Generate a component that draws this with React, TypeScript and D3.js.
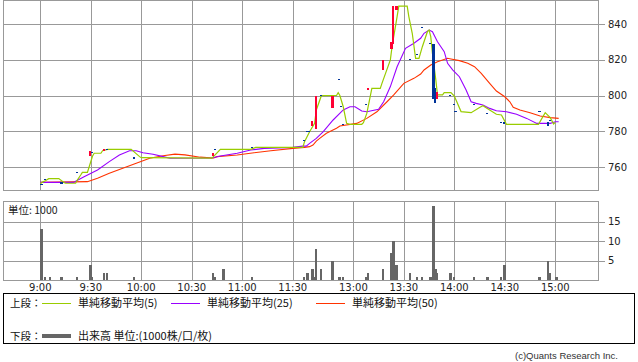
import React from "react";
import * as d3 from "d3";

const W = 638;
const H = 362;

const timeTicks = ["9:00", "9:30", "10:00", "10:30", "11:00", "11:30", "13:00", "13:30", "14:00", "14:30", "15:00"];
const priceTicks = [760, 780, 800, 820, 840];
const volTicks = [5, 10, 15];

// 1-minute candles: time, open, close
const candleTimes = ["9:00", "9:02", "9:12", "9:21", "9:29", "9:30", "9:37", "9:39", "9:55", "10:42", "10:43", "11:05",
  "12:30", "12:32", "12:33", "12:35", "12:37", "12:40", "12:47", "12:51", "12:52", "12:53", "13:07", "13:08", "13:17",
  "13:22", "13:23", "13:25", "13:33", "13:37", "13:40", "13:45", "13:47", "13:48", "13:49", "13:57", "13:59", "14:00",
  "14:11", "14:19", "14:27", "14:29", "14:50", "14:55", "14:56"];
const candleOpen = [750, 753, 751, 757, 766, 768, 769, 770, 765, 766, 770, 771,
  775, 780, 780, 783, 781, 800, 793, 809, 794, 784, 795, 803, 814,
  826, 829, 848, 820, 823, 838, 829, 829, 804, 798, 800, 795, 791,
  795, 790, 785, 785, 791, 785, 786];
const candleClose = [750, 753, 751, 757, 769, 768, 770, 770, 765, 768, 770, 771,
  775, 780, 780, 786, 800, 800, 800, 809, 794, 784, 795, 804, 820,
  830, 850, 850, 820, 823, 838, 829, 798, 796, 802, 800, 795, 791,
  795, 790, 785, 784, 791, 783, 786];

// volume (1000 shares)
const volTimes = ["9:00", "9:02", "9:05", "9:12", "9:21", "9:29", "9:30", "9:37", "9:39", "9:55", "10:42", "10:43", "10:48", "11:05",
  "12:30", "12:32", "12:35", "12:36", "12:37", "12:40", "12:47", "12:51", "12:53", "13:07", "13:08", "13:17", "13:22", "13:23",
  "13:25", "13:33", "13:37", "13:40", "13:45", "13:47", "13:48", "13:49", "13:57", "13:59", "14:11", "14:19", "14:27", "14:29",
  "14:50", "14:55", "14:56", "15:00"];
const volValues = [13, 0.9, 0.9, 0.9, 0.9, 4, 0.9, 2, 2, 0.9, 2, 0.9, 3, 0.9,
  0.9, 2, 3, 0.9, 8, 3, 5, 0.9, 0.9, 0.9, 2, 3, 7, 10,
  4, 2, 0.9, 0.9, 0.9, 19, 3, 2, 2, 0.9, 0.9, 0.9, 0.9, 4,
  0.9, 5, 2, 0.9];

// moving averages
const sma5Times = ["9:00", "9:01", "9:03", "9:05", "9:11", "9:14", "9:15", "9:21", "9:22", "9:24", "9:25", "9:28", "9:29", "9:31",
  "9:32", "9:36", "9:37", "9:40", "9:54", "9:59", "10:00", "10:42", "10:47", "11:05", "11:08", "12:30", "12:31", "12:34",
  "12:37", "12:38", "12:41", "12:50", "12:51", "12:52", "12:54", "12:56", "12:58", "13:05", "13:06", "13:08", "13:11",
  "13:16", "13:17", "13:22", "13:23", "13:26", "13:27", "13:32", "13:33", "13:35", "13:37", "13:39", "13:41", "13:44",
  "13:45", "13:46", "13:47", "13:49", "13:50", "13:53", "13:54", "13:58", "14:00", "14:04", "14:10", "14:15", "14:17",
  "14:21", "14:25", "14:28", "14:31", "14:50", "14:54", "14:57", "14:59", "15:00"];
const sma5Values = [750.5, 751.4, 752.3, 753.5, 753.5, 751.4, 750.9, 750.9, 752.7, 755.5, 757, 757, 760, 766,
  767.7, 767.7, 769.1, 769.9, 769.9, 765.8, 765.2, 765, 769.9, 769.9, 771, 771, 774.2, 779.7,
  784.4, 791.9, 799.9, 800, 801.6, 800, 793.7, 784.4, 783.9, 783.9, 784.8, 790, 804,
  804, 806.8, 819.9, 827.3, 844.1, 850, 850, 844, 834.8, 820.8, 820.8, 827.3, 835.7,
  836.6, 832.9, 823.6, 808.7, 800.3, 800.3, 801.6, 801.6, 799.7, 791, 790.4, 793.3, 794.3,
  791.9, 789.5, 789.1, 783.9, 783.9, 790.4, 787.6, 784.1, 785];

const sma25Times = ["9:00", "9:20", "9:21", "9:26", "9:34", "9:41", "9:47", "9:53", "9:57", "10:01", "10:07", "10:13", "10:17",
  "10:42", "10:47", "10:57", "11:05", "11:13", "11:30", "12:30", "12:32", "12:34", "12:38", "12:42", "12:48", "12:54",
  "12:58", "13:01", "13:05", "13:08", "13:15", "13:18", "13:22", "13:26", "13:31", "13:36", "13:40", "13:42", "13:45",
  "13:47", "13:50", "13:54", "13:56", "13:59", "14:03", "14:07", "14:10", "14:13", "14:17", "14:21", "14:25", "14:31",
  "14:37", "14:43", "14:49", "14:57", "15:00", "15:02"];
const sma25Values = [751.4, 751.4, 752, 754.6, 758.3, 763, 766.7, 769.1, 769.1, 768, 767.1, 765.8, 764.9,
  765, 766.2, 767.7, 769.5, 770.4, 771, 771.7, 771.7, 773.2, 776, 779.7, 786.3, 791.9,
  793.7, 793.7, 791.3, 790.9, 792.3, 796.5, 805, 816.1, 826.4, 829.2, 832, 834.8, 836.6,
  835.7, 830.1, 824.5, 818, 814.3, 810.5, 803.1, 796.5, 795.6, 794.7, 792.8, 791.5, 790.9,
  789.5, 787.2, 784.4, 784.4, 785.3, 785.3];

const sma50Times = ["9:00", "9:28", "9:34", "9:41", "9:49", "9:57", "10:05", "10:13", "10:20", "10:26", "10:35", "10:43", "10:45",
  "10:57", "11:07", "11:17", "11:30", "12:31", "12:34", "12:36", "12:38", "12:40", "12:44", "12:50", "12:52", "13:02",
  "13:08", "13:14", "13:20", "13:24", "13:30", "13:36", "13:40", "13:42", "13:46", "13:50", "13:56", "13:58", "14:03",
  "14:08", "14:12", "14:16", "14:21", "14:25", "14:30", "14:33", "14:35", "14:39", "14:45", "14:51", "14:57", "15:02"];
const sma50Values = [751.4, 751.8, 753.7, 756.5, 759.3, 762.1, 764.9, 766.3, 767.2, 766.8, 765.5, 765, 765.8,
  766.7, 768, 769.1, 770.4, 771, 771.4, 772.3, 774.5, 776, 778.9, 781.7, 782.9, 784.4,
  787.2, 790.9, 796.5, 800.3, 806.8, 809.6, 812, 814.3, 817.1, 818.9, 820.8, 820.4, 819.5,
  818, 816.1, 812.4, 806.8, 802.5, 799.3, 796.5, 793.4, 791.9, 790.4, 788.5, 787.6, 787.2];

const legendItems = [
  { label: "単純移動平均(5)", color: "#99cc00", x: 42 },
  { label: "単純移動平均(25)", color: "#9900ff", x: 171 },
  { label: "単純移動平均(50)", color: "#ff3300", x: 316 },
];

function slot(t: string): number {
  const [h, m] = t.split(":").map(Number);
  const mins = h * 60 + m - 540;
  return mins <= 150 ? mins : mins - 54;
}

const x = d3.scaleLinear().domain([0, 306]).range([40.3, 555.3]);
const y = d3.scaleLinear().domain([760, 840]).range([167, 24]);
const yv = d3.scaleLinear().domain([0, 20]).range([280.5, 202]);

const MAIN = { left: 3.5, right: 598.5, top: 0.5, bottom: 190.5 };
const VOL = { left: 3.5, right: 598.5, top: 201.5, bottom: 280.5 };

const NUM_FONT = "DejaVu Sans";
const JP_FONT = "'Noto Sans CJK JP', 'Noto Sans', sans-serif";

function line(times: string[], values: number[]) {
  const pts: [number, number][] = times.map((t, i) => [x(slot(t)), y(values[i])]);
  return d3.line()(pts) || "";
}

const r = (v: number) => Math.round(v) + 0.5;

export default function App() {
  const grid = "#999999";
  return (
    <svg width={W} height={H} viewBox={`0 0 ${W} ${H}`} style={{ position: "absolute", left: 0, top: 0, background: "#fff" }}>
      <rect x={0} y={0} width={W} height={H} fill="#fff" />
      {/* main panel grid */}
      {timeTicks.map((t) => (
        <line key={"vg" + t} x1={r(x(slot(t)))} x2={r(x(slot(t)))} y1={MAIN.top} y2={MAIN.bottom} stroke={grid} strokeWidth={1} shapeRendering="crispEdges" />
      ))}
      {priceTicks.map((p) => (
        <g key={"hp" + p}>
          <line x1={MAIN.left} x2={MAIN.right} y1={r(y(p))} y2={r(y(p))} stroke={grid} strokeWidth={1} shapeRendering="crispEdges" />
          <line x1={MAIN.right} x2={MAIN.right + 6} y1={r(y(p))} y2={r(y(p))} stroke={grid} strokeWidth={1} shapeRendering="crispEdges" />
          <text x={608} y={y(p)} dy="0.36em" fontFamily={NUM_FONT} fontSize={10} fill="#222">{p}</text>
        </g>
      ))}
      <rect x={MAIN.left} y={MAIN.top} width={MAIN.right - MAIN.left} height={MAIN.bottom - MAIN.top} fill="none" stroke={grid} strokeWidth={1} shapeRendering="crispEdges" />

      {/* moving averages */}
      <path d={line(sma50Times, sma50Values)} fill="none" stroke="#ff3300" strokeWidth={1.1} />
      <path d={line(sma25Times, sma25Values)} fill="none" stroke="#9900ff" strokeWidth={1.1} />
      <path d={line(sma5Times, sma5Values)} fill="none" stroke="#99cc00" strokeWidth={1.2} />

      {/* candles */}
      {candleTimes.map((t, i) => {
        const o = candleOpen[i];
        const c = candleClose[i];
        const up = c > o;
        const y0 = y(Math.max(o, c));
        const y1 = y(Math.min(o, c));
        const hgt = Math.max(1.2, y1 - y0);
        return (
          <rect key={"c" + i} x={x(slot(t))} y={o === c ? y0 - 0.6 : y0} width={2.2} height={hgt}
            fill={up ? "#ff0033" : "#003399"} shapeRendering="crispEdges" />
        );
      })}

      {/* volume panel */}
      {timeTicks.map((t) => (
        <line key={"vv" + t} x1={r(x(slot(t)))} x2={r(x(slot(t)))} y1={VOL.top} y2={VOL.bottom} stroke={grid} strokeWidth={1} shapeRendering="crispEdges" />
      ))}
      {volTicks.map((v) => (
        <g key={"hv" + v}>
          <line x1={VOL.left} x2={VOL.right} y1={r(yv(v))} y2={r(yv(v))} stroke={grid} strokeWidth={1} shapeRendering="crispEdges" />
          <line x1={VOL.right} x2={VOL.right + 6} y1={r(yv(v))} y2={r(yv(v))} stroke={grid} strokeWidth={1} shapeRendering="crispEdges" />
          <text x={608} y={yv(v)} dy="0.36em" fontFamily={NUM_FONT} fontSize={10} fill="#222">{v}</text>
        </g>
      ))}
      {volTimes.map((t, i) => (
        <rect key={"v" + i} x={x(slot(t))} y={yv(volValues[i])} width={2.5} height={yv(0) - yv(volValues[i])} fill="#666666" shapeRendering="crispEdges" />
      ))}
      <rect x={VOL.left} y={VOL.top} width={VOL.right - VOL.left} height={VOL.bottom - VOL.top} fill="none" stroke={grid} strokeWidth={1} shapeRendering="crispEdges" />
      <text x={8} y={213.5} fontFamily={JP_FONT} fontSize={10.5} fill="#222">単位: 1000</text>

      {/* x labels */}
      {timeTicks.map((t) => (
        <text key={"xl" + t} x={x(slot(t))} y={291} textAnchor="middle" fontFamily={NUM_FONT} fontSize={10} fill="#222">{t}</text>
      ))}

      {/* legend */}
      <rect x={3.5} y={293.5} width={631} height={50} fill="none" stroke="#000" strokeWidth={1} shapeRendering="crispEdges" />
      <text x={10} y={303} dy="0.35em" fontFamily={JP_FONT} fontSize={10.5} fill="#111">上段：</text>
      {legendItems.map((it) => (
        <g key={it.label}>
          <line x1={it.x} x2={it.x + 29} y1={303.5} y2={303.5} stroke={it.color} strokeWidth={1} shapeRendering="crispEdges" />
          <text x={it.x + 36} y={303} dy="0.35em" fontFamily={JP_FONT} fontSize={11} fill="#111">{it.label}</text>
        </g>
      ))}
      <text x={10} y={336} dy="0.35em" fontFamily={JP_FONT} fontSize={10.5} fill="#111">下段：</text>
      <line x1={42} x2={71} y1={336} y2={336} stroke="#666666" strokeWidth={4} shapeRendering="crispEdges" />
      <text x={78} y={336} dy="0.35em" fontFamily={JP_FONT} fontSize={11} fill="#111">出来高 単位:(1000株/口/枚)</text>

      <text x={618} y={359} textAnchor="end" fontFamily="Liberation Sans" fontSize={9.5} fill="#333">(c)Quants Research Inc.</text>
    </svg>
  );
}
